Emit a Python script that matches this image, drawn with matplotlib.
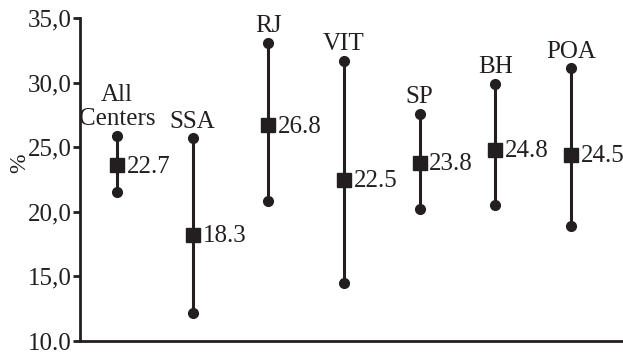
import matplotlib
matplotlib.use("Agg")
import matplotlib.pyplot as plt

categories = ["All\nCenters", "SSA", "RJ", "VIT", "SP", "BH", "POA"]
centers = [23.6, 18.2, 26.7, 22.5, 23.8, 24.8, 24.4]
upper = [25.9, 25.7, 33.1, 31.7, 27.6, 29.9, 31.1]
lower = [21.5, 12.2, 20.8, 14.5, 20.2, 20.5, 18.9]
value_labels = ["22.7", "18.3", "26.8", "22.5", "23.8", "24.8", "24.5"]
yticks = [10, 15, 20, 25, 30, 35]
ytick_labels = ["10.0", "15,0", "20,0", "25,0", "30,0", "35,0"]

plt.rcParams['font.family'] = ['Liberation Serif', 'DejaVu Serif']
C = "#231f20"
FS = 18

fig = plt.figure(figsize=(6.23, 3.54), dpi=100)
ax = fig.add_axes([80/623, 13/354, 1 - 80/623, (341-18)/354])

xs = list(range(len(categories)))
for x, c, u, l, vl, cat in zip(xs, centers, upper, lower, value_labels, categories):
    ax.plot([x, x], [l, u], color=C, lw=2.2, solid_capstyle='butt', zorder=2)
    ax.plot([x, x], [l, u], 'o', color=C, ms=7, zorder=3)
    ax.plot([x], [c], 's', color=C, ms=10, zorder=4)
    ax.annotate(vl, (x, c), xytext=(7, -1), textcoords='offset points',
                va='center', ha='left', fontsize=FS, color=C)
    ax.annotate(cat, (x, u), xytext=(0, 4), textcoords='offset points',
                va='bottom', ha='center', fontsize=FS, color=C, linespacing=1.1)

ax.set_xlim(-0.49, 6.69)
ax.set_ylim(10, 35)
ax.set_yticks(yticks)
ax.set_yticklabels(ytick_labels, fontsize=FS, color=C)
ax.set_xticks([])
ax.set_ylabel("%", fontsize=FS - 1, color=C)
ax.yaxis.set_label_coords(-50/543, 0.55)
for s in ["top", "right"]:
    ax.spines[s].set_visible(False)
for s in ["left", "bottom"]:
    ax.spines[s].set_linewidth(2)
    ax.spines[s].set_color(C)
ax.tick_params(axis='y', direction='out', length=5, width=2, color=C, pad=1)
ax.patch.set_alpha(0)

fig.savefig("out.png", dpi=100)
